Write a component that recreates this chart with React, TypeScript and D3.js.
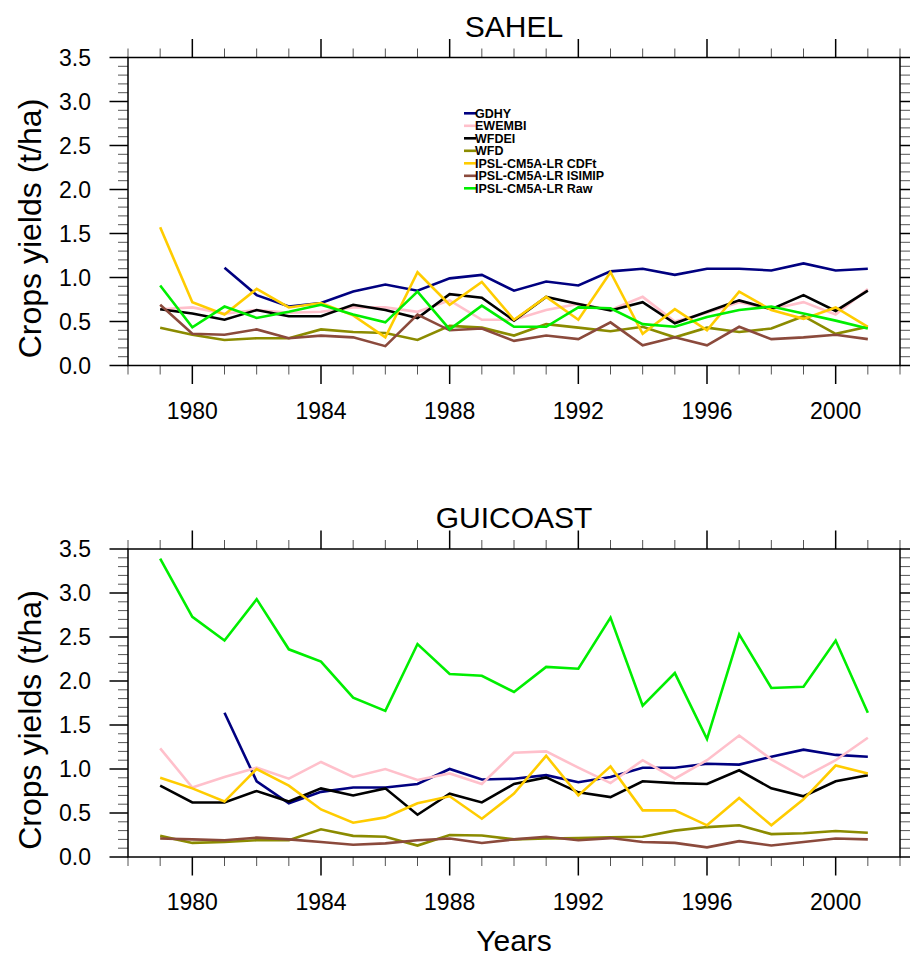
import React, { useEffect, useRef } from 'react';
import * as d3 from 'd3';

const years = d3.range(1979, 2002);

const seriesNames = [
  'GDHY',
  'EWEMBI',
  'WFDEI',
  'WFD',
  'IPSL-CM5A-LR CDFt',
  'IPSL-CM5A-LR ISIMIP',
  'IPSL-CM5A-LR Raw',
];
const seriesColors = ['#000080', '#ffc0cb', '#000000', '#8b8b00', '#ffcc00', '#8b4a3c', '#00ee00'];

// SAHEL, 1979-2001 (t/ha)
const sahelGdhy = [null, null, 1.11, 0.8, 0.67, 0.71, 0.84, 0.92, 0.85, 0.99, 1.03, 0.85, 0.955, 0.91, 1.07, 1.1, 1.03, 1.1, 1.1, 1.08, 1.16, 1.08, 1.1];
const sahelEwembi = [0.64, 0.66, 0.59, 0.63, 0.6, 0.61, 0.66, 0.66, 0.61, 0.74, 0.52, 0.52, 0.63, 0.7, 0.63, 0.78, 0.5, 0.6, 0.72, 0.64, 0.72, 0.58, 0.87];
const sahelWfdei = [0.64, 0.59, 0.52, 0.63, 0.56, 0.56, 0.69, 0.63, 0.54, 0.81, 0.77, 0.51, 0.78, 0.7, 0.625, 0.72, 0.48, 0.61, 0.74, 0.64, 0.8, 0.62, 0.85];
const sahelWfd = [0.43, 0.35, 0.29, 0.31, 0.31, 0.41, 0.38, 0.37, 0.29, 0.45, 0.43, 0.34, 0.47, 0.43, 0.39, 0.44, 0.32, 0.43, 0.38, 0.42, 0.56, 0.36, 0.44];
const sahelCdft = [1.57, 0.72, 0.58, 0.87, 0.66, 0.71, 0.57, 0.32, 1.06, 0.69, 0.95, 0.52, 0.78, 0.52, 1.06, 0.36, 0.64, 0.4, 0.84, 0.63, 0.53, 0.66, 0.44];
const sahelIsimip = [0.69, 0.36, 0.35, 0.41, 0.31, 0.34, 0.32, 0.22, 0.58, 0.4, 0.42, 0.28, 0.34, 0.3, 0.49, 0.23, 0.32, 0.23, 0.44, 0.3, 0.32, 0.35, 0.3];
const sahelRaw = [0.91, 0.435, 0.67, 0.54, 0.61, 0.69, 0.58, 0.49, 0.84, 0.41, 0.68, 0.44, 0.44, 0.66, 0.65, 0.47, 0.44, 0.55, 0.63, 0.67, 0.59, 0.51, 0.42];

// GUICOAST, 1979-2001 (t/ha)
const guiGdhy = [null, null, 1.64, 0.86, 0.61, 0.74, 0.79, 0.79, 0.83, 1.0, 0.88, 0.89, 0.93, 0.85, 0.91, 1.015, 1.015, 1.06, 1.05, 1.14, 1.22, 1.16, 1.14];
const guiEwembi = [1.235, 0.79, 0.91, 1.015, 0.89, 1.08, 0.91, 1.0, 0.875, 0.95, 0.83, 1.185, 1.2, 1.015, 0.84, 1.1, 0.89, 1.1, 1.38, 1.11, 0.905, 1.1, 1.355];
const guiWfdei = [0.81, 0.62, 0.62, 0.75, 0.63, 0.78, 0.7, 0.78, 0.48, 0.72, 0.62, 0.83, 0.905, 0.735, 0.68, 0.86, 0.84, 0.83, 0.985, 0.78, 0.69, 0.86, 0.93];
const guiWfd = [0.24, 0.16, 0.17, 0.19, 0.19, 0.315, 0.24, 0.23, 0.13, 0.25, 0.245, 0.2, 0.21, 0.215, 0.225, 0.23, 0.3, 0.34, 0.36, 0.26, 0.27, 0.295, 0.275];
const guiCdft = [0.9, 0.78, 0.63, 1.0, 0.81, 0.54, 0.39, 0.45, 0.61, 0.69, 0.435, 0.72, 1.15, 0.7, 1.03, 0.53, 0.53, 0.36, 0.67, 0.36, 0.655, 1.04, 0.95];
const guiIsimip = [0.21, 0.2, 0.19, 0.22, 0.2, 0.17, 0.14, 0.155, 0.19, 0.21, 0.16, 0.2, 0.23, 0.19, 0.215, 0.17, 0.16, 0.11, 0.18, 0.13, 0.17, 0.21, 0.2];
const guiRaw = [3.39, 2.73, 2.46, 2.93, 2.36, 2.22, 1.81, 1.66, 2.42, 2.08, 2.06, 1.875, 2.16, 2.14, 2.72, 1.72, 2.09, 1.34, 2.53, 1.92, 1.935, 2.46, 1.64];

const majorYears = [1980, 1984, 1988, 1992, 1996, 2000];
const yTickLabels = ['0.0', '0.5', '1.0', '1.5', '2.0', '2.5', '3.0', '3.5'];

const panels = [
  { title: 'SAHEL', top: 57.5, legend: true, data: [sahelGdhy, sahelEwembi, sahelWfdei, sahelWfd, sahelCdft, sahelIsimip, sahelRaw] },
  { title: 'GUICOAST', top: 549, legend: false, data: [guiGdhy, guiEwembi, guiWfdei, guiWfd, guiCdft, guiIsimip, guiRaw] },
];

const W = 910;
const H = 958;
const font = '"Liberation Sans", Arial, Helvetica, sans-serif';

const App = () => {
  const svgRef = useRef(null);

  useEffect(() => {
    const svg = d3.select(svgRef.current);
    svg.selectAll('*').remove();

    const left = 128;
    const right = 900;
    const ph = 308;

    const x = d3.scaleLinear().domain([1978, 2002]).range([left, right]);

    panels.forEach(p => {
      const y = d3.scaleLinear().domain([0, 3.5]).range([p.top + ph, p.top]);
      const g = svg.append('g');

      // minor ticks
      const minorX = d3.range(1978, 2003).filter(v => !majorYears.includes(v));
      const minorY = d3.range(0, 36).filter(i => i % 5 !== 0).map(i => i / 10);
      const tickColor = '#555';

      minorX.forEach(v => {
        g.append('line').attr('x1', x(v)).attr('x2', x(v)).attr('y1', y(0)).attr('y2', y(0) + 9)
          .attr('stroke', tickColor).attr('stroke-width', 1);
        g.append('line').attr('x1', x(v)).attr('x2', x(v)).attr('y1', y(3.5)).attr('y2', y(3.5) - 9)
          .attr('stroke', tickColor).attr('stroke-width', 1);
      });
      minorY.forEach(v => {
        g.append('line').attr('x1', left - 10).attr('x2', left).attr('y1', y(v)).attr('y2', y(v))
          .attr('stroke', tickColor).attr('stroke-width', 1);
        g.append('line').attr('x1', right).attr('x2', right + 10).attr('y1', y(v)).attr('y2', y(v))
          .attr('stroke', tickColor).attr('stroke-width', 1);
      });

      // major ticks
      majorYears.forEach(v => {
        g.append('line').attr('x1', x(v)).attr('x2', x(v)).attr('y1', y(0)).attr('y2', y(0) + 18.5)
          .attr('stroke', '#000').attr('stroke-width', 1.5);
        g.append('line').attr('x1', x(v)).attr('x2', x(v)).attr('y1', y(3.5)).attr('y2', y(3.5) - 18.5)
          .attr('stroke', '#000').attr('stroke-width', 1.5);
      });
      yTickLabels.forEach(t => {
        const v = +t;
        g.append('line').attr('x1', left - 18.5).attr('x2', left).attr('y1', y(v)).attr('y2', y(v))
          .attr('stroke', '#000').attr('stroke-width', 1.5);
        g.append('line').attr('x1', right).attr('x2', right + 18.5).attr('y1', y(v)).attr('y2', y(v))
          .attr('stroke', '#000').attr('stroke-width', 1.5);
        g.append('text').attr('x', 91).attr('y', y(v)).attr('dy', '0.36em')
          .attr('text-anchor', 'end').attr('font-family', font).attr('font-size', 23)
          .text(t);
      });

      majorYears.forEach(v => {
        g.append('text').attr('x', x(v)).attr('y', y(0) + 53)
          .attr('text-anchor', 'middle').attr('font-family', font).attr('font-size', 23)
          .text(v);
      });

      // series lines
      const line = d3.line()
        .defined(d => d[1] != null)
        .x(d => x(d[0]))
        .y(d => y(d[1]));

      p.data.forEach((vals, i) => {
        g.append('path')
          .datum(years.map((yr, k) => [yr, vals[k]]))
          .attr('fill', 'none')
          .attr('stroke', seriesColors[i])
          .attr('stroke-width', 2.6)
          .attr('stroke-linejoin', 'miter')
          .attr('d', line);
      });

      // frame
      g.append('rect').attr('x', left).attr('y', p.top).attr('width', right - left).attr('height', ph)
        .attr('fill', 'none').attr('stroke', '#000').attr('stroke-width', 1.5);

      // title
      g.append('text').attr('x', (left + right) / 2).attr('y', p.top - 21)
        .attr('text-anchor', 'middle').attr('font-family', font).attr('font-size', 30)
        .text(p.title);

      // y label
      const cy = p.top + ph / 2 + 17;
      g.append('text').attr('transform', `translate(41,${cy}) rotate(-90)`)
        .attr('text-anchor', 'middle').attr('font-family', font).attr('font-size', 32)
        .text('Crops yields (t/ha)');

      if (p.legend) {
        const lg = g.append('g').attr('transform', 'translate(464,113.3)');
        seriesNames.forEach((name, i) => {
          const row = lg.append('g').attr('transform', `translate(0,${i * 12.5})`);
          row.append('line').attr('x1', 0).attr('x2', 12).attr('y1', 0).attr('y2', 0)
            .attr('stroke', seriesColors[i]).attr('stroke-width', 2.6);
          row.append('text').attr('x', 11).attr('y', 0).attr('dy', '0.36em')
            .attr('font-family', font).attr('font-weight', 'bold').attr('font-size', 12.5)
            .text(name);
        });
      }
    });

    svg.append('text').attr('x', 514).attr('y', 951)
      .attr('text-anchor', 'middle').attr('font-family', font).attr('font-size', 30)
      .text('Years');
  }, []);

  return (
    <svg
      ref={svgRef}
      width={W}
      height={H}
      style={{ position: 'absolute', left: 0, top: 0, background: '#fff' }}
    />
  );
};

export default App;
